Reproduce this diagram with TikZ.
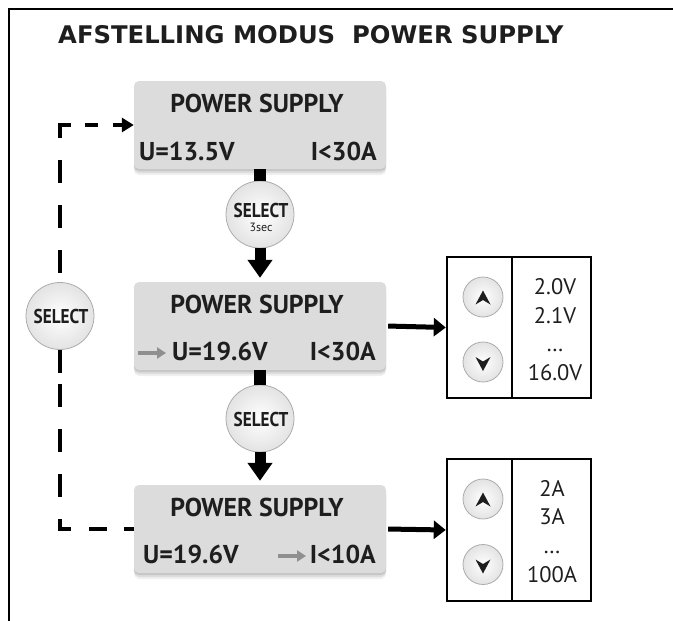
\documentclass[tikz,border=0pt]{standalone}
\usepackage{fontspec}
\setmainfont{PT Sans}
\newfontfamily\titlefont{DejaVu Sans}
\newfontfamily\selfont{PT Sans}[FakeStretch=0.86]
\usetikzlibrary{arrows.meta,shapes.geometric,shadows}
\definecolor{boxgray}{HTML}{DCDCDC}
\definecolor{pointgray}{HTML}{8F8F8F}
\definecolor{txt}{HTML}{1E1E1E}
\begin{document}
\begin{tikzpicture}[x=1pt,y=-1pt,
  psbox/.style={fill=boxgray, rounded corners=5pt, minimum width=252pt, minimum height=88pt, inner sep=0pt,
    drop shadow={shadow xshift=0pt, shadow yshift=-6pt, opacity=0.06, fill=black},
    drop shadow={shadow xshift=0pt, shadow yshift=-4pt, opacity=0.08, fill=black},
    drop shadow={shadow xshift=0pt, shadow yshift=-2pt, opacity=0.10, fill=black}},
  boxtxt/.style={inner sep=0pt, text=txt, font=\bfseries\fontsize{25.8}{28}\selectfont},
  selbtn/.style={ellipse, draw=gray!65, line width=0.8pt, inner color=white, outer color=gray!22, minimum width=68pt, minimum height=67pt, inner sep=0pt},
  seltxt/.style={inner sep=0pt, text=txt, text depth=0pt, font=\selfont\bfseries\fontsize{20}{22}\selectfont},
  btn/.style={circle, draw=gray!65, line width=0.8pt, inner color=white, outer color=gray!22, minimum size=40pt, inner sep=0pt},
  rbox/.style={draw, line width=2.5pt, minimum width=144pt, inner sep=0pt},
  listtxt/.style={inner sep=0pt, text=txt, font=\fontsize{22.5}{24}\selectfont},
  stub/.style={line width=12pt},
  downarrow/.style={line width=11pt, -{Triangle[length=18pt,width=24pt]}, shorten >=4pt},
  sidearrow/.style={line width=5pt, -{Triangle[length=12pt,width=18pt]}, shorten <=2pt},
  pointer/.style={pointgray, line width=3.5pt, -{Triangle[length=9pt,width=11pt]}},
  dashconn/.style={line width=4.5pt, -{Triangle[length=12pt,width=14pt]},
    dash pattern=on 10pt off 17pt on 18pt off 18pt on 21pt off 22pt on 23pt off 22pt on 23pt off 22pt on 23pt off 11pt on 34pt off 66pt on 23pt off 22pt on 23pt off 22pt on 23pt off 22pt on 24pt off 14pt on 13pt off 15pt on 40pt off 40pt}
]
\useasboundingbox (0,0) rectangle (673,621);
% frame
\draw[line width=2.5pt] (673,9) -- (9,9) -- (9,621);
% title
\node[anchor=base west, inner sep=0pt, text=txt, font=\titlefont\bfseries\fontsize{24.3}{28}\selectfont] (title) at (58,43) {AFSTELLING MODUS\ \ POWER SUPPLY};

% boxes
\node[psbox] (b1) at (260,125) {};
\node[psbox] (b2) at (260,326) {};
\node[psbox] (b3) at (260,529) {};

% box texts
\node[boxtxt, anchor=base] (b1t) at (257,112) {POWER SUPPLY};
\node[boxtxt, anchor=base west] (b1u) at (139,160) {U=13.5V};
\node[boxtxt, anchor=base east] (b1i) at (377,160) {I<30A};

\node[boxtxt, anchor=base] (b2t) at (257,313) {POWER SUPPLY};
\node[boxtxt, anchor=base west] (b2u) at (172,360) {U=19.6V};
\node[boxtxt, anchor=base east] (b2i) at (376,360) {I<30A};
\coordinate (p2a) at (138,353);
\coordinate (p2b) at (166,353);
\draw[pointer] (p2a) -- (p2b);

\node[boxtxt, anchor=base west] (b3u) at (143,563) {U=19.6V};
\node[boxtxt, anchor=base] (b3t) at (257,516) {POWER SUPPLY};
\node[boxtxt, anchor=base east] (b3i) at (376,563) {I<10A};
\coordinate (p3a) at (278,556);
\coordinate (p3b) at (306,556);
\draw[pointer] (p3a) -- (p3b);

% select buttons between boxes
\node[selbtn] (s1) at (260,214.5) {};
\node[seltxt, anchor=base] (s1t) at (261,217.5) {SELECT};
\node[inner sep=0pt, text=txt, text height=7pt, text depth=0pt, font=\fontsize{12}{13}\selectfont, anchor=base] (s1s) at (261,231) {3sec};
\draw[stub] (b1.south) -- (s1.north);
\draw[downarrow] (s1.south) -- (b2.north);

\node[selbtn] (s2) at (260,418.5) {};
\node[seltxt, anchor=base] (s2t) at (261,426) {SELECT};
\draw[stub] (b2.south) -- (s2.north);
\draw[downarrow] (s2.south) -- (b3.north);

% dashed return
\draw[dashconn] (b3.west) -- ++(-74,0) |- (b1.west);
\node[selbtn] (sl) at (60,316) {};
\node[seltxt, anchor=base] (slt) at (61,323) {SELECT};

% right boxes
\node[rbox, minimum height=141pt] (r1) at (519,327.5) {};
\draw[line width=1.2pt] (512,257) -- (512,398);
\node[rbox, minimum height=142pt] (r2) at (519,530) {};
\draw[line width=1.2pt] (512,459) -- (512,601);
\draw[sidearrow] (b2.east) -- (r1.west);
\draw[sidearrow] (b3.east) -- (r2.west);

% up/down buttons
\node[btn] (u1) at (483,297) {};
\node[btn] (d1) at (483,362) {};
\node[btn] (u2) at (483,499) {};
\node[btn] (d2) at (483,564.5) {};
\foreach \n in {u1,u2}{
  \fill[txt, shift={(\n.center)}] (0,-6.5) -- (7.5,7.5) -- (0,3) -- (-7.5,7.5) -- cycle;
}
\foreach \n in {d1,d2}{
  \fill[txt, shift={(\n.center)}] (0,9) -- (7.5,-5) -- (0,-0.5) -- (-7.5,-5) -- cycle;
}

% lists
\node[listtxt, anchor=base] (v1) at (555,294) {2.0V};
\node[listtxt, anchor=base] (v2) at (555,323) {2.1V};
\node[listtxt, anchor=base] (v3) at (555,351) {…};
\node[listtxt, anchor=base] (v4) at (555,380) {16.0V};
\node[listtxt, anchor=base] (a1) at (552,496) {2A};
\node[listtxt, anchor=base] (a2) at (552,524) {3A};
\node[listtxt, anchor=base] (a3) at (552,553) {…};
\node[listtxt, anchor=base] (a4) at (552,582) {100A};
\end{tikzpicture}
\end{document}
